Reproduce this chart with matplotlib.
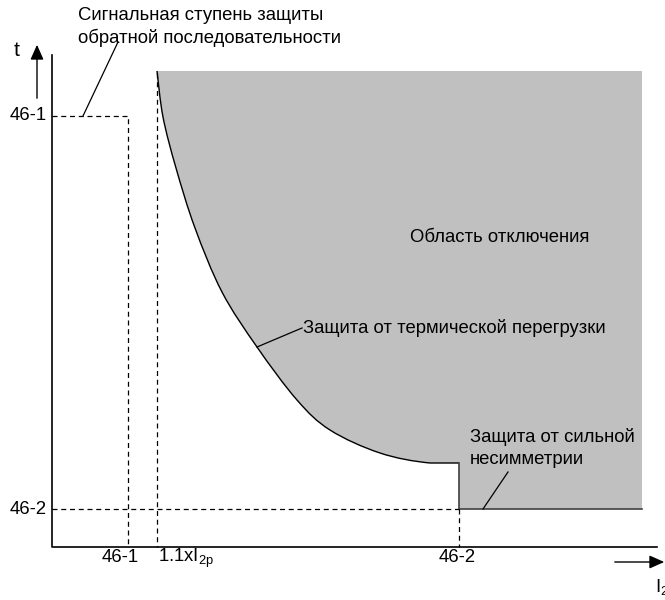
import matplotlib
matplotlib.use("Agg")
import matplotlib.pyplot as plt
from matplotlib.path import Path
from matplotlib.patches import PathPatch

# Schematic in image-pixel units (x right, y down)
AXIS_X0, AXIS_Y0 = 52, 547          # axes origin
AXIS_TOP, AXIS_RIGHT = 55, 657
T_46_1, T_46_2 = 116, 509           # time levels
I_46_1, I_11, I_46_2 = 128, 157, 459  # current levels
REGION_RIGHT, REGION_TOP = 642, 71

# thermal overload curve
curve_x = [157, 163, 176, 195, 222, 257, 297, 330, 380, 430]
curve_y = [71, 117, 168, 228, 292, 347, 400, 430, 453, 463]
T_HIGH_SET = 463   # flat part of the curve, up to 46-2

y_ticks = [T_46_1, T_46_2]
y_labels = ["46-1", "46-2"]
x_ticks = [120, 457]
x_labels = ["46-1", "46-2"]

plt.rcParams['font.family'] = ['Liberation Sans', 'DejaVu Sans']
plt.rcParams['mathtext.fontset'] = 'custom'
plt.rcParams['mathtext.rm'] = 'Liberation Sans'
FS = 13.3


def smooth_path(xs, ys):
    # cubic bezier through the read points (Catmull-Rom tangents)
    pts = list(zip(xs, ys))
    verts = [pts[0]]
    codes = [Path.MOVETO]
    for i in range(len(pts) - 1):
        p0 = pts[i - 1] if i > 0 else pts[i]
        p1, p2 = pts[i], pts[i + 1]
        p3 = pts[i + 2] if i + 2 < len(pts) else (2 * p2[0] - p1[0], p2[1])
        c1 = (p1[0] + (p2[0] - p0[0]) / 6, p1[1] + (p2[1] - p0[1]) / 6)
        c2 = (p2[0] - (p3[0] - p1[0]) / 6, p2[1] - (p3[1] - p1[1]) / 6)
        verts += [c1, c2, p2]
        codes += [Path.CURVE4] * 3
    verts.append((I_46_2, T_HIGH_SET))
    codes.append(Path.LINETO)
    return verts, codes


fig = plt.figure(figsize=(6.65, 6.0), dpi=100)
ax = fig.add_axes([0, 0, 1, 1])
ax.set_xlim(0, 665)
ax.set_ylim(600, 0)
ax.axis("off")

# trip region
cv, cc = smooth_path(curve_x, curve_y)
region_v = cv + [(I_46_2, T_46_2), (REGION_RIGHT, T_46_2), (REGION_RIGHT, REGION_TOP), cv[0]]
region_c = cc + [Path.LINETO] * 3 + [Path.CLOSEPOLY]
ax.add_patch(PathPatch(Path(region_v, region_c), facecolor="#c0c0c0", lw=0))
ax.add_patch(PathPatch(Path(cv, cc), facecolor="none", edgecolor="black", lw=1))
ax.plot([I_46_2, I_46_2, REGION_RIGHT], [T_HIGH_SET, T_46_2, T_46_2], color="#404040", lw=1.2)

# axes
ax.plot([AXIS_X0, AXIS_X0, AXIS_RIGHT], [AXIS_TOP, AXIS_Y0, AXIS_Y0], color="black", lw=1.2)
arrow = dict(arrowstyle="-|>,head_length=0.9,head_width=0.4", color="black", lw=1)
ax.annotate("", xy=(37, 42), xytext=(37, 101), arrowprops=arrow, annotation_clip=False)
ax.annotate("", xy=(667, 562), xytext=(612, 562), arrowprops=arrow, annotation_clip=False)
ax.text(17, 50, "t", fontsize=FS + 2, ha="center", va="center")
ax.text(655, 587, r"I$_\mathrm{2}$", fontsize=FS, ha="left", va="center")

# dashed helper lines
dash = dict(color="black", lw=0.9, ls=(0, (4, 3)))
ax.plot([AXIS_X0, I_46_1, I_46_1], [T_46_1, T_46_1, AXIS_Y0], **dash)
ax.plot([I_11, I_11], [REGION_TOP + 2, AXIS_Y0], **dash)
ax.plot([AXIS_X0, I_46_2], [T_46_2, T_46_2], **dash)
ax.plot([I_46_2, I_46_2], [T_46_2, AXIS_Y0], **dash)

# tick labels
for y, lab in zip(y_ticks, y_labels):
    ax.text(47, y, lab, fontsize=FS, ha="right", va="center")
for x, lab in zip(x_ticks, x_labels):
    ax.text(x, 558, lab, fontsize=FS, ha="center", va="center")
ax.text(158, 558, r"1.1xI$_\mathrm{2p}$", fontsize=FS, ha="left", va="center")

# annotations
ax.text(78, 15, "Сигнальная ступень защиты", fontsize=FS, ha="left", va="center")
ax.text(78, 38, "обратной последовательности", fontsize=FS, ha="left", va="center")
ax.plot([118, 83], [42, T_46_1], color="black", lw=0.9)

ax.text(410, 237, "Область отключения", fontsize=FS, ha="left", va="center")

ax.text(303, 328, "Защита от термической перегрузки", fontsize=FS, ha="left", va="center")
ax.plot([302, 257], [328, 347], color="black", lw=0.9)

ax.text(470, 437, "Защита от сильной", fontsize=FS, ha="left", va="center")
ax.text(470, 459, "несимметрии", fontsize=FS, ha="left", va="center")
ax.plot([508, 483], [472, T_46_2], color="black", lw=0.9)

fig.savefig("out.png", dpi=100)
